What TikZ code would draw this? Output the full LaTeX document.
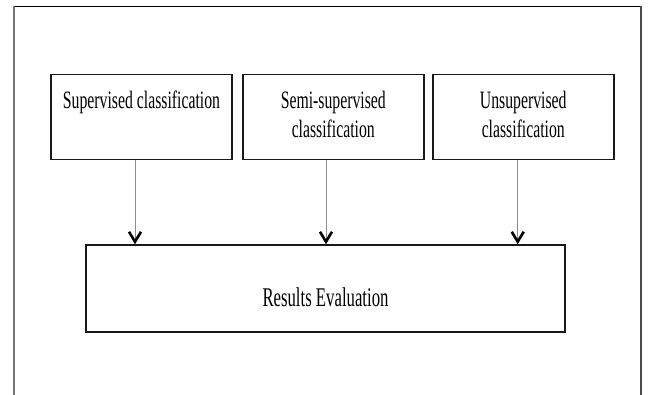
\documentclass[tikz,border=0pt]{standalone}
\usepackage{fontspec}
\setmainfont{Liberation Serif}[FakeStretch=0.63]
\newfontfamily\resfont{Liberation Serif}[FakeStretch=0.62]
\usetikzlibrary{arrows.meta}
\tikzset{
  topbox/.style={draw=black!90, line width=1.4pt, minimum width=181pt, minimum height=84.6pt,
    inner sep=0pt, align=center, font=\fontsize{25pt}{29pt}\selectfont},
  resbox/.style={draw=black!90, line width=1.4pt, minimum width=479pt, minimum height=87pt,
    inner sep=0pt, text height=42pt, text depth=5pt, font=\resfont\fontsize{27pt}{29pt}\selectfont},
  arr/.style={draw=black!45, line width=1pt, -{Straight Barb[black,length=10pt,width=12pt,line width=2.6pt]}},
  frameline/.style={line width=1.6pt}
}
\begin{document}
\begin{tikzpicture}[x=1pt,y=-1pt]
\useasboundingbox (0,0) rectangle (649,395);
% outer frame (open at the bottom)
\coordinate (ftl) at (14,6.5);
\coordinate (ftr) at (641,6.5);
\coordinate (fbl) at (14,395);
\coordinate (fbr) at (641,395);
\draw[frameline, black] (ftl) -- (ftr);
\draw[frameline, black!55, line width=2pt] (ftl) -- (fbl);
\draw[frameline, black!70] (ftr) -- (fbr);
% boxes
\node[topbox] (sup) at (141.5,117) {\strut Supervised classification\\\strut};
\node[topbox] (semi) at (333.3,117) {\strut Semi-supervised\\\strut classification};
\node[topbox] (unsup) at (523.3,117) {\strut Unsupervised\\\strut classification};
\node[resbox] (res) at (325.5,288.5) {Results Evaluation};
% arrows
\draw[arr] ([xshift=-6.5pt]sup.south) -- ([xshift=-6.5pt]sup.south |- res.north);
\draw[arr] ([xshift=-7.3pt]semi.south) -- ([xshift=-7.3pt]semi.south |- res.north);
\draw[arr] ([xshift=-5.6pt]unsup.south) -- ([xshift=-5.6pt]unsup.south |- res.north);
\end{tikzpicture}
\end{document}
